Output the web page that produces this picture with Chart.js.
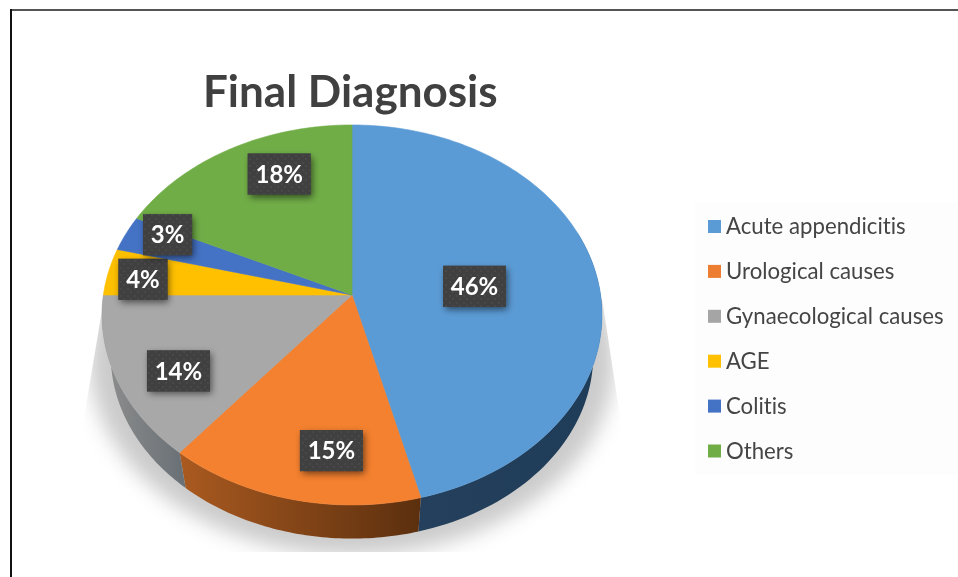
<!DOCTYPE html>
<html>
<head>
<meta charset="utf-8">
<title>Final Diagnosis</title>
<script src="https://cdn.jsdelivr.net/npm/chart.js@4"></script>
<style>
html, body { margin: 0; padding: 0; background: #fff; overflow: hidden; }
#box { position: relative; width: 958px; height: 577px; }
</style>
</head>
<body>
<div id="box"><canvas id="chart"></canvas></div>
<script>
var categories = ['Acute appendicitis', 'Urological causes', 'Gynaecological causes', 'AGE', 'Colitis', 'Others'];
var percents = [46, 15, 14, 4, 3, 18];
var sliceColors = ['#5b9bd5', '#f4812f', '#a8a8a8', '#ffc000', '#4472c4', '#70ad47'];
var legendColors = ['#5b9bd5', '#ed7d31', '#a5a5a5', '#ffc000', '#4472c4', '#70ad47'];
var sideColors = [['#1f3c58', '#24405c'], ['#5b2f0e', '#aa5a20'], ['#6b7277', '#8e8e8e'], null, null, null];

// the pie is tilted, so the slice tip sits above the middle of the ellipse
var cx = 352, cy = 295, ax = 248.6, ay = 187.9, tilt = -0.105;
var depthDrop = 41, depthScale = 0.965;

// label box centres are nudged from the spot halfway out along each slice
var labelNudge = [[0, 3], [8, 59], [-58.5, 35], [-86.5, -4], [-69.5, -29], [-9, -45]];

function project(theta, r) {
	var u = Math.sin(theta) * r, v = -Math.cos(theta) * r;
	var w = 1 + tilt * v;
	return { x: cx + ax * u / w, y: cy + ay * v / w };
}

function projectBase(theta) {
	var p = project(theta, 1);
	return { x: cx + (p.x - cx) * depthScale, y: cy + depthDrop + (p.y - cy) * depthScale };
}

function drawShadow(ctx) {
	ctx.save();
	// the shadow widens away from the pie and is cut flat at the bottom
	ctx.beginPath();
	ctx.moveTo(104, 298);
	ctx.lineTo(602, 298);
	ctx.lineTo(622, 430);
	ctx.lineTo(622, 552);
	ctx.lineTo(82, 552);
	ctx.lineTo(82, 430);
	ctx.closePath();
	ctx.clip();
	ctx.filter = 'blur(10px)';
	ctx.fillStyle = '#cbcbcb';
	ctx.beginPath();
	for (var i = 0; i <= 120; i++) {
		var t = i / 120 * Math.PI * 2;
		var p = project(t, 1);
		var x = cx + (p.x - cx) * 1.05, y = cy + 44 + (p.y - cy) * 1.03;
		if (i == 0) ctx.moveTo(x, y); else ctx.lineTo(x, y);
	}
	ctx.closePath();
	ctx.fill();
	ctx.restore();
}

function drawSide(ctx, start, end, colors) {
	var from = Math.max(start, 70 * Math.PI / 180);
	var to = Math.min(end, 285 * Math.PI / 180);
	if (to <= from) return;
	var a = project(from, 1), b = project(to, 1);
	var grad = ctx.createLinearGradient(b.x, 0, a.x, 0);
	grad.addColorStop(0, colors[1]);
	grad.addColorStop(1, colors[0]);
	ctx.fillStyle = grad;
	ctx.beginPath();
	var n = 60, i, p;
	for (i = 0; i <= n; i++) {
		p = project(from + (to - from) * i / n, 1);
		if (i == 0) ctx.moveTo(p.x, p.y); else ctx.lineTo(p.x, p.y);
	}
	for (i = n; i >= 0; i--) {
		p = projectBase(from + (to - from) * i / n);
		ctx.lineTo(p.x, p.y);
	}
	ctx.closePath();
	ctx.fill();
}

function drawTop(ctx, start, end, color) {
	ctx.fillStyle = color;
	ctx.strokeStyle = color;
	ctx.lineWidth = 0.6;
	ctx.beginPath();
	ctx.moveTo(cx, cy);
	var n = Math.max(8, Math.round((end - start) * 60));
	for (var i = 0; i <= n; i++) {
		var p = project(start + (end - start) * i / n, 1);
		ctx.lineTo(p.x, p.y);
	}
	ctx.closePath();
	ctx.fill();
	ctx.stroke();
}

function dotPattern(ctx) {
	var c = document.createElement('canvas');
	c.width = 7; c.height = 7;
	var g = c.getContext('2d');
	g.fillStyle = '#404040';
	g.fillRect(0, 0, 7, 7);
	g.fillStyle = '#484848';
	g.fillRect(1, 1, 2, 2);
	g.fillRect(4, 4, 2, 2);
	return ctx.createPattern(c, 'repeat');
}

function drawLabel(ctx, text, x, y) {
	ctx.font = 'bold 24px Lato';
	ctx.textAlign = 'center';
	ctx.textBaseline = 'middle';
	var w = text.length > 2 ? 63 : 49, h = 41;
	ctx.save();
	ctx.shadowColor = 'rgba(0,0,0,0.55)';
	ctx.shadowBlur = 7;
	ctx.shadowOffsetX = 2;
	ctx.shadowOffsetY = 3;
	ctx.fillStyle = '#404040';
	ctx.fillRect(x - w / 2, y - h / 2, w, h);
	ctx.restore();
	ctx.fillStyle = dotPattern(ctx);
	ctx.fillRect(x - w / 2, y - h / 2, w, h);
	ctx.fillStyle = '#ffffff';
	ctx.fillText(text, x, y + 1);
}

function drawLegend(ctx) {
	ctx.fillStyle = '#fdfdfd';
	ctx.fillRect(695, 203, 263, 272);
	ctx.font = '22.2px Lato';
	ctx.letterSpacing = '0.01px'; // keeps the "ti" pairs from joining up
	ctx.textAlign = 'left';
	ctx.textBaseline = 'middle';
	for (var i = 0; i < categories.length; i++) {
		var y = 226.5 + i * 44.9;
		ctx.fillStyle = legendColors[i];
		ctx.fillRect(708, y - 6.5, 13, 13);
		ctx.fillStyle = '#454545';
		ctx.fillText(categories[i], 726, y + 0.5);
	}
	ctx.letterSpacing = '0px';
}

var tiltedPie = {
	id: 'tiltedPie',
	beforeDraw: function (chart) {
		var ctx = chart.ctx;
		ctx.fillStyle = '#555555';
		ctx.fillRect(10, 9, 948, 2);
		ctx.fillStyle = '#111111';
		ctx.fillRect(10, 9, 2, 568);
	},
	beforeDatasetDraw: function (chart, args) {
		var ctx = chart.ctx;
		var arcs = args.meta.data;
		var off = Math.PI / 2;
		drawShadow(ctx);
		arcs.forEach(function (arc, i) {
			if (sideColors[i]) drawSide(ctx, arc.startAngle + off, arc.endAngle + off, sideColors[i]);
		});
		arcs.forEach(function (arc, i) {
			drawTop(ctx, arc.startAngle + off, arc.endAngle + off, arc.options.backgroundColor);
		});
		arcs.forEach(function (arc, i) {
			var mid = (arc.startAngle + arc.endAngle) / 2 + off;
			var p = project(mid, 0.5);
			drawLabel(ctx, percents[i] + '%', p.x + labelNudge[i][0], p.y + labelNudge[i][1]);
		});
		drawLegend(ctx);
		return false;
	}
};

new Chart(document.getElementById('chart'), {
	type: 'pie',
	data: {
		labels: categories,
		datasets: [{ data: percents, backgroundColor: sliceColors, borderWidth: 0 }]
	},
	options: {
		responsive: true,
		maintainAspectRatio: false,
		animation: false,
		layout: { padding: { left: 203, top: 66 } },
		plugins: {
			legend: { display: false },
			tooltip: { enabled: false },
			title: {
				display: true,
				text: 'Final Diagnosis',
				align: 'start',
				color: '#404040',
				font: { family: 'Lato', size: 44, weight: 'bold' },
				padding: 0
			}
		}
	},
	plugins: [tiltedPie]
});
</script>
</body>
</html>
